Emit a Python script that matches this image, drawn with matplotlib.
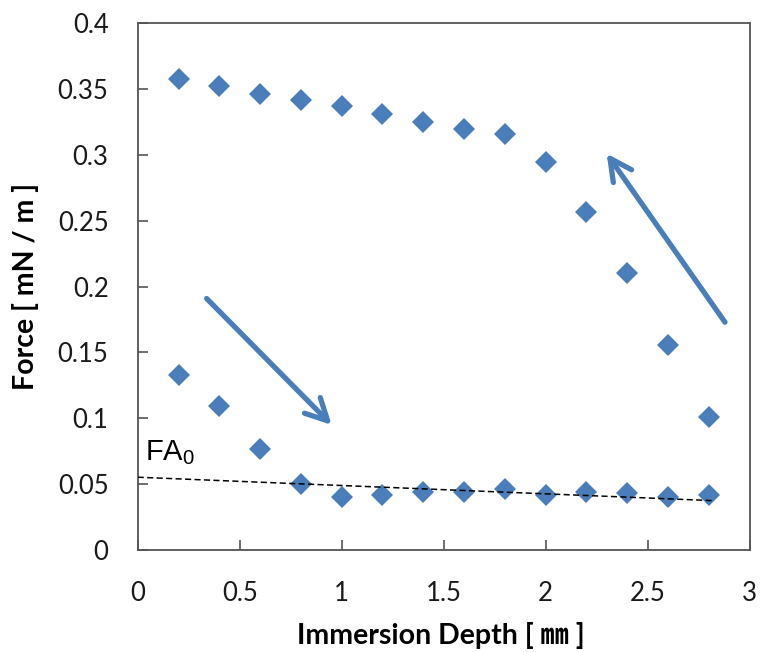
import matplotlib
matplotlib.use("Agg")
import matplotlib.pyplot as plt
from matplotlib.ticker import FuncFormatter

# immersion depth [mm]
depth = [0.2, 0.4, 0.6, 0.8, 1.0, 1.2, 1.4, 1.6, 1.8, 2.0, 2.2, 2.4, 2.6, 2.8]
# force on the way in (upper branch) and on the way out (lower branch)
force_up = [0.358, 0.352, 0.346, 0.342, 0.337, 0.331, 0.325, 0.320, 0.316,
            0.295, 0.257, 0.210, 0.156, 0.101]
force_down = [0.133, 0.109, 0.077, 0.050, 0.040, 0.042, 0.044, 0.044, 0.046,
              0.042, 0.044, 0.043, 0.040, 0.042]

# FA0 baseline
fa_x = [0.0, 2.82]
fa_y = [0.0553, 0.0375]

# arrows: (start, end)
arrow_down = [(0.338, 0.191), (0.951, 0.095)]
arrow_up = [(2.879, 0.173), (2.299, 0.301)]

xticks = [0, 0.5, 1, 1.5, 2, 2.5, 3]
yticks = [0, 0.05, 0.1, 0.15, 0.2, 0.25, 0.3, 0.35, 0.4]

blue = "#4a7ebb"
plt.rcParams["font.family"] = ["Lato", "Noto Sans CJK JP", "DejaVu Sans"]

fig = plt.figure(figsize=(7.6, 6.52), dpi=100)
ax = fig.add_axes([0.1812, 0.1564, 0.8052, 0.8079])

ax.plot(depth, force_up, "D", color=blue, ms=11.5, mew=0, zorder=3)
ax.plot(depth, force_down, "D", color=blue, ms=11.5, mew=0, zorder=3)
ax.plot(fa_x, fa_y, color="black", lw=1.1, dashes=(4, 2.2), zorder=4)

for (x0, y0), (x1, y1) in (arrow_down, arrow_up):
	ax.annotate("", xy=(x1, y1), xytext=(x0, y0),
	            arrowprops=dict(arrowstyle="->, head_length=0.78, head_width=0.4",
	                            mutation_scale=20, color=blue, lw=3.8,
	                            shrinkA=0, shrinkB=0, capstyle="round"))

ax.text(0.035, 0.068, r"FA$_\mathregular{0}$", fontsize=21,
        family="Liberation Sans", va="baseline", ha="left")

ax.set_xlim(0, 3)
ax.set_ylim(0, 0.4)
ax.set_xticks(xticks)
ax.set_yticks(yticks)
fmt = FuncFormatter(lambda v, p: "%g" % v)
ax.xaxis.set_major_formatter(fmt)
ax.yaxis.set_major_formatter(fmt)
ax.tick_params(direction="in", length=7, width=1.2, color="#555555",
               labelsize=18.5, labelcolor="#1a1a1a")
ax.tick_params(axis="y", pad=21)
ax.tick_params(axis="x", pad=22)
for s in ax.spines.values():
	s.set_color("#555555")
	s.set_linewidth(1.3)

ax.set_xlabel("Immersion Depth [ \u339c ]", fontsize=20.5, fontweight="bold")
ax.set_ylabel("Force [ mN / m ]", fontsize=20.5, fontweight="bold")
ax.xaxis.set_label_coords(0.495, -0.136)
ax.yaxis.set_label_coords(-0.162, 0.5)

fig.savefig("out.png", dpi=100)
